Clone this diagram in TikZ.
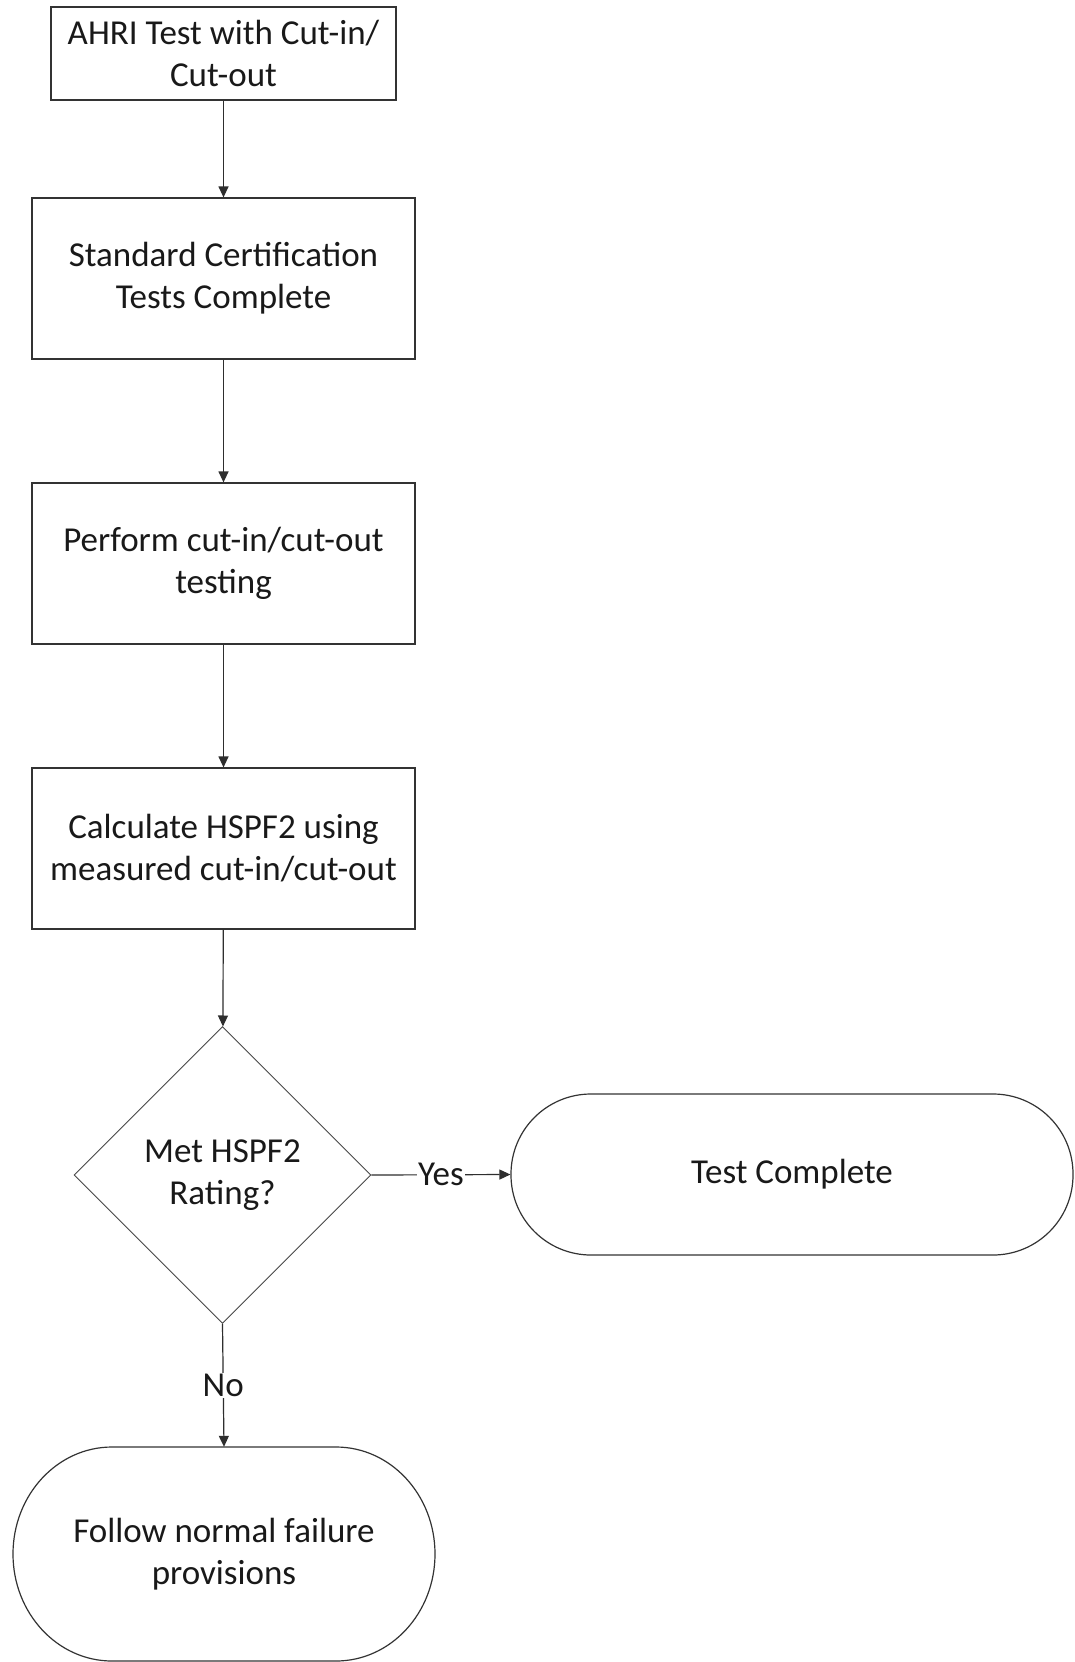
\documentclass[tikz,border=0pt]{standalone}
\usepackage{fontspec}
\setmainfont{Carlito}
\usetikzlibrary{shapes.geometric,arrows.meta}
\tikzset{
  lc/.style={draw=black!80, line width=1.2pt},
  procbox/.style={lc, rectangle, align=center, inner sep=0pt, text=black!90},
  decbox/.style={draw=black!72, line width=0.9pt, diamond, aspect=1, align=center, inner sep=0pt, text=black!90},
  termbox/.style={lc, rectangle, rounded corners=80pt, align=center, inner sep=0pt, text=black!90},
  arr/.style={draw=black!82, line width=1.2pt, -{Triangle[length=11pt,width=10pt]}},
  lbl/.style={fill=white, inner sep=1pt, text=black!90}
}
\begin{document}
\begin{tikzpicture}[x=1pt,y=-1pt, font=\fontsize{35}{42}\selectfont]
\useasboundingbox (0,0) rectangle (1075,1662);
\fill[white] (0,0) rectangle (1075,1662);

\node[procbox, minimum width=345pt, minimum height=93pt] (b1) at (223.5,53.5) {AHRI Test with Cut-in/\\Cut-out};
\node[procbox, minimum width=383pt, minimum height=161pt] (b2) at (223.5,278.5) {Standard Certification\\Tests Complete};
\node[procbox, minimum width=383pt, minimum height=161pt] (b3) at (223.5,563.5) {Perform cut-in/cut-out\\testing};
\node[procbox, minimum width=383pt, minimum height=161pt] (b4) at (223.5,848.5) {Calculate HSPF2 using\\measured cut-in/cut-out};
\node[decbox, minimum width=297pt, minimum height=297pt] (dec) at (222.5,1175) {Met HSPF2\\Rating?};
\node[termbox, minimum width=562pt, minimum height=161pt] (tc) at (792,1174.5) {Test Complete};

\node[align=center, inner sep=0pt, minimum width=422pt, minimum height=214pt, text=black!90] (fail) at (224,1554) {Follow normal failure\\provisions};
\draw[lc] (112,1447) -- (336,1447)
  .. controls (390.7,1447) and (435,1494.9) .. (435,1554)
  .. controls (435,1613.1) and (390.7,1661) .. (336,1661)
  -- (112,1661)
  .. controls (57.3,1661) and (13,1613.1) .. (13,1554)
  .. controls (13,1494.9) and (57.3,1447) .. (112,1447) -- cycle;

\draw[arr] (b1) -- (b2);
\draw[arr] (b2) -- (b3);
\draw[arr] (b3) -- (b4);
\draw[arr] (b4) -- (dec);
\draw[arr] (dec.east) -- node[lbl] {Yes} (tc.west);
\draw[arr] (dec.south) -- node[lbl] {No} (fail.north);
\end{tikzpicture}
\end{document}
